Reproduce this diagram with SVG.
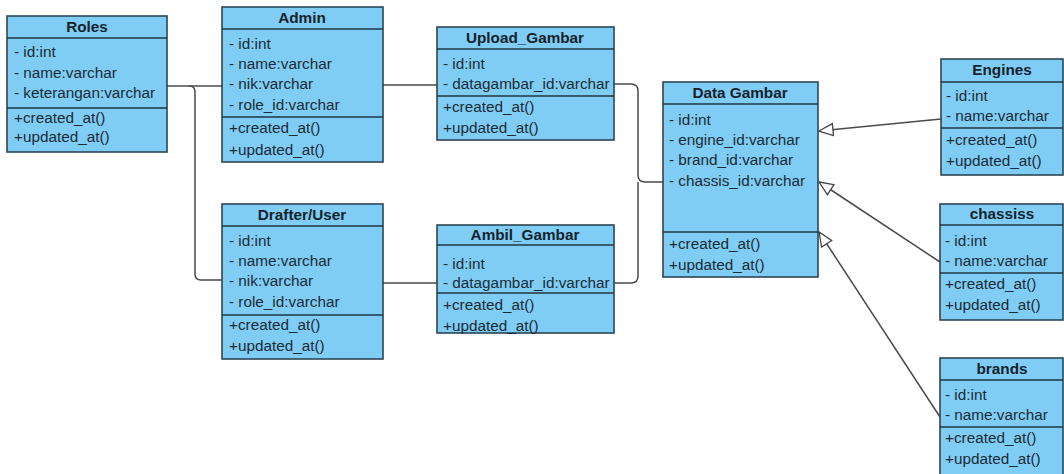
<svg xmlns="http://www.w3.org/2000/svg" width="1064" height="474" viewBox="0 0 1064 474">
<defs>
<style>
.box{fill:#7fcdf4;stroke:#2c4656;stroke-width:1.6}
.div{stroke:#1f3442;stroke-width:1.6}
.t{font-family:"Liberation Sans",Arial,sans-serif;font-size:15.3px;fill:#1b2b35}
.h{font-family:"Liberation Sans",Arial,sans-serif;font-size:15.3px;font-weight:bold;fill:#14232c;text-anchor:middle}
.c{fill:none;stroke:#4a4a4a;stroke-width:1.5}
</style>
<marker id="tri" markerUnits="userSpaceOnUse" markerWidth="18" markerHeight="16" refX="15" refY="7" orient="auto">
<path d="M1,1 L15,7 L1,13 Z" fill="#fff" stroke="#444" stroke-width="1.3"/>
</marker>
</defs>
<rect width="1064" height="474" fill="#fff"/>
<g id="connectors">
<path class="c" d="M167,86 H222"/>
<path class="c" d="M189,86 Q195,86 195,92 V274 Q195,280 201,280 H222"/>
<path class="c" d="M383,85 H437"/>
<path class="c" d="M383,283 H437"/>
<path class="c" d="M614,84 H631 Q638,84 638,91 V175 Q638,182 645,182 H663"/>
<path class="c" d="M614,283 H631 Q638,283 638,276 V182"/>
<path class="c" d="M941,119 L819,131" marker-end="url(#tri)"/>
<path class="c" d="M940,262 L819,182" marker-end="url(#tri)"/>
<path class="c" d="M940,417 L819,232" marker-end="url(#tri)"/>
</g>
<g id="roles">
<rect class="box" x="7" y="16" width="160" height="136"/>
<line class="div" x1="7" y1="38" x2="167" y2="38"/>
<line class="div" x1="7" y1="108" x2="167" y2="108"/>
<text class="h" x="87" y="32">Roles</text>
<text class="t" x="14" y="57">- id:int</text>
<text class="t" x="14" y="78">- name:varchar</text>
<text class="t" x="14" y="98">- keterangan:varchar</text>
<text class="t" x="14" y="123">+created_at()</text>
<text class="t" x="14" y="142">+updated_at()</text>
</g>
<g id="admin">
<rect class="box" x="222" y="7" width="161" height="155"/>
<line class="div" x1="222" y1="29" x2="383" y2="29"/>
<line class="div" x1="222" y1="117" x2="383" y2="117"/>
<text class="h" x="302" y="23">Admin</text>
<text class="t" x="229" y="49">- id:int</text>
<text class="t" x="229" y="69">- name:varchar</text>
<text class="t" x="229" y="89">- nik:varchar</text>
<text class="t" x="229" y="110">- role_id:varchar</text>
<text class="t" x="229" y="133">+created_at()</text>
<text class="t" x="229" y="155">+updated_at()</text>
</g>
<g id="upload-gambar">
<rect class="box" x="437" y="27" width="177" height="113"/>
<line class="div" x1="437" y1="49" x2="614" y2="49"/>
<line class="div" x1="437" y1="96" x2="614" y2="96"/>
<text class="h" x="525" y="43">Upload_Gambar</text>
<text class="t" x="443" y="69">- id:int</text>
<text class="t" x="443" y="89">- datagambar_id:varchar</text>
<text class="t" x="443" y="112">+created_at()</text>
<text class="t" x="443" y="133">+updated_at()</text>
</g>
<g id="drafter-user">
<rect class="box" x="222" y="204" width="161" height="155"/>
<line class="div" x1="222" y1="226" x2="383" y2="226"/>
<line class="div" x1="222" y1="315" x2="383" y2="315"/>
<text class="h" x="302" y="220">Drafter/User</text>
<text class="t" x="229" y="246">- id:int</text>
<text class="t" x="229" y="266">- name:varchar</text>
<text class="t" x="229" y="286">- nik:varchar</text>
<text class="t" x="229" y="307">- role_id:varchar</text>
<text class="t" x="229" y="330">+created_at()</text>
<text class="t" x="229" y="351">+updated_at()</text>
</g>
<g id="ambil-gambar">
<rect class="box" x="437" y="225" width="177" height="108"/>
<line class="div" x1="437" y1="245" x2="614" y2="245"/>
<line class="div" x1="437" y1="293" x2="614" y2="293"/>
<text class="h" x="525" y="240">Ambil_Gambar</text>
<text class="t" x="443" y="269">- id:int</text>
<text class="t" x="443" y="288">- datagambar_id:varchar</text>
<text class="t" x="443" y="310">+created_at()</text>
<text class="t" x="443" y="331">+updated_at()</text>
</g>
<g id="data-gambar">
<rect class="box" x="663" y="82" width="155" height="195"/>
<line class="div" x1="663" y1="104" x2="818" y2="104"/>
<line class="div" x1="663" y1="232" x2="818" y2="232"/>
<text class="h" x="740" y="98">Data Gambar</text>
<text class="t" x="669" y="125">- id:int</text>
<text class="t" x="669" y="145">- engine_id:varchar</text>
<text class="t" x="669" y="165">- brand_id:varchar</text>
<text class="t" x="669" y="186">- chassis_id:varchar</text>
<text class="t" x="669" y="249">+created_at()</text>
<text class="t" x="669" y="270">+updated_at()</text>
</g>
<g id="engines">
<rect class="box" x="941" y="59" width="122" height="116"/>
<line class="div" x1="941" y1="82" x2="1063" y2="82"/>
<line class="div" x1="941" y1="128" x2="1063" y2="128"/>
<text class="h" x="1002" y="75">Engines</text>
<text class="t" x="946" y="101">- id:int</text>
<text class="t" x="946" y="121">- name:varchar</text>
<text class="t" x="946" y="145">+created_at()</text>
<text class="t" x="946" y="166">+updated_at()</text>
</g>
<g id="chassiss">
<rect class="box" x="940" y="204" width="123" height="116"/>
<line class="div" x1="940" y1="225" x2="1063" y2="225"/>
<line class="div" x1="940" y1="273" x2="1063" y2="273"/>
<text class="h" x="1002" y="219">chassiss</text>
<text class="t" x="945" y="246">- id:int</text>
<text class="t" x="945" y="266">- name:varchar</text>
<text class="t" x="945" y="289">+created_at()</text>
<text class="t" x="945" y="310">+updated_at()</text>
</g>
<g id="brands">
<rect class="box" x="940" y="358" width="123" height="122"/>
<line class="div" x1="940" y1="380" x2="1063" y2="380"/>
<line class="div" x1="940" y1="427" x2="1063" y2="427"/>
<text class="h" x="1002" y="374">brands</text>
<text class="t" x="945" y="400">- id:int</text>
<text class="t" x="945" y="420">- name:varchar</text>
<text class="t" x="945" y="443">+created_at()</text>
<text class="t" x="945" y="464">+updated_at()</text>
</g>
</svg>
